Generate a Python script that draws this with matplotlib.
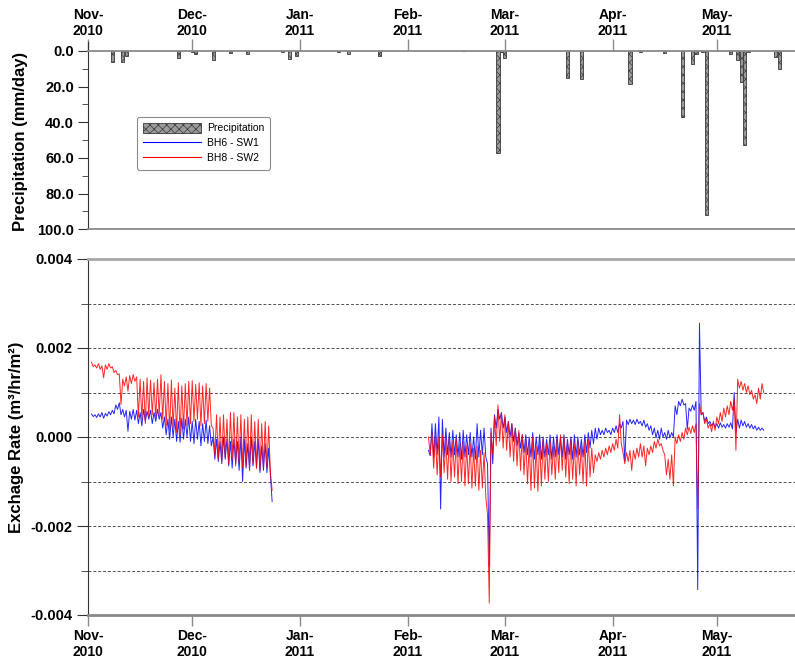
import numpy as np
import pandas as pd
import matplotlib
matplotlib.use("Agg")
import matplotlib.pyplot as plt
import matplotlib.dates as mdates
from matplotlib.patches import Patch
from matplotlib.lines import Line2D
from matplotlib.ticker import MultipleLocator, FormatStrFormatter

plt.rcParams['font.family'] = ['Liberation Sans', 'DejaVu Sans']
plt.rcParams['font.weight'] = 'bold'
plt.rcParams['axes.labelweight'] = 'bold'
plt.rcParams['hatch.color'] = '#6a6a6a'
plt.rcParams['hatch.linewidth'] = 0.5

# daily rainfall (mm/day)
rain_dates = ["2010-11-08", "2010-11-11", "2010-11-12", "2010-11-27", "2010-12-01",
              "2010-12-02", "2010-12-07", "2010-12-12", "2010-12-17", "2010-12-27",
              "2010-12-29", "2010-12-31", "2011-01-12", "2011-01-15", "2011-01-24",
              "2011-02-17", "2011-02-27", "2011-02-28", "2011-03-01", "2011-03-19",
              "2011-03-23", "2011-04-06", "2011-04-09", "2011-04-16", "2011-04-21",
              "2011-04-24", "2011-04-25", "2011-04-27", "2011-04-28", "2011-05-05",
              "2011-05-07", "2011-05-08", "2011-05-09", "2011-05-10", "2011-05-18",
              "2011-05-19"]
rain_mm = [6.0, 6.0, 2.8, 3.7, 0.8,
           1.7, 4.9, 0.9, 1.9, 0.7,
           4.8, 2.8, 0.8, 1.6, 2.8,
           0.3, 57.4, 0.6, 3.7, 15.2,
           15.8, 18.6, 0.6, 1.0, 37.2,
           7.3, 1.5, 0.6, 92.1, 1.9,
           4.9, 17.3, 52.7, 0.8, 3.2,
           9.9]

# exchange rate, readings every 12 h, in 1e-3 m3/hr/m2
start_a = "2010-11-02 00:00"
bh6_sw1_a = [0.52, 0.46, 0.50, 0.44, 0.52, 0.45, 0.55, 0.42, 0.53, 0.47,
             0.57, 0.50, 0.60, 0.52, 0.72, 0.62, 0.77, 0.50, 0.62, 0.45,
             0.60, 0.13, 0.58, 0.40, 0.62, 0.38, 0.60, 0.30, 0.55, 0.25,
             0.62, 0.35, 0.58, 0.40, 0.60, 0.30, 0.55, 0.35, 0.62, 0.40,
             0.55, 0.20, 0.45, 0.05, 0.40, -0.05, 0.45, 0.00, 0.40, -0.10,
             0.35, -0.12, 0.42, -0.05, 0.40, 0.00, 0.45, -0.10, 0.35, -0.15,
             0.40, -0.05, 0.35, -0.20, 0.30, -0.10, 0.38, -0.15, 0.25, -0.20,
             0.00, -0.50, -0.05, -0.55, -0.10, -0.60, 0.00, -0.50, -0.05, -0.65,
             -0.10, -0.70, -0.05, -0.60, -0.10, -0.75, 0.00, -1.00, -0.05, -0.70,
             -0.15, -0.75, 0.00, -0.65, -0.10, -0.70, -0.05, -0.80, -0.20, -0.75,
             -0.15, -0.80, -0.25, -0.85, -1.45]
bh8_sw2_a = [1.68, 1.58, 1.62, 1.55, 1.65, 1.52, 1.60, 1.33, 1.62, 1.52,
             1.65, 1.55, 1.58, 1.45, 1.50, 1.40, 1.42, 0.73, 1.30, 1.15,
             1.35, 1.03, 1.38, 1.20, 1.40, 1.25, 1.35, 0.45, 1.30, 0.40,
             1.25, 0.30, 1.33, 0.45, 1.28, 0.50, 1.22, 0.42, 1.30, 0.48,
             1.40, 0.40, 1.25, 0.25, 1.20, 0.15, 1.28, 0.20, 1.10, 0.10,
             1.22, 0.05, 1.15, 0.18, 1.20, 0.25, 1.25, 0.30, 1.27, 0.35,
             1.18, 0.40, 1.22, 0.25, 1.15, 0.30, 1.20, 0.35, 1.10, 0.25,
             0.20, -0.40, 0.50, -0.50, 0.45, -0.55, 0.50, -0.45, 0.40, -0.60,
             0.55, -0.50, 0.55, -0.65, 0.45, -0.60, 0.50, -0.70, 0.40, -0.65,
             0.45, -0.70, 0.50, -0.60, 0.35, -0.70, 0.40, -0.75, 0.30, -0.65,
             0.35, -0.70, 0.25, -0.80, -1.20]

start_b = "2011-02-07 00:00"
bh6_sw1_b = [-0.30, -0.42, 0.30, -0.45, 0.30, -0.40, 0.45, -1.62, 0.40, -0.45,
             0.20, -0.40, 0.10, -0.45, 0.15, -0.40, 0.05, -0.45, 0.10, -0.50,
             0.15, -0.45, 0.05, -0.40, 0.10, -0.45, 0.00, -0.50, 0.30, -0.45,
             0.15, -0.40, 0.20, -0.45, -0.60, -2.90, 0.20, -0.60, 0.50, 0.20,
             0.62, 0.40, 0.55, 0.20, 0.45, 0.10, 0.35, 0.00, 0.30, -0.10,
             0.20, -0.20, 0.10, -0.25, 0.05, -0.35, 0.05, -0.40, 0.00, -0.45,
             0.10, -0.50, 0.00, -0.40, 0.05, -0.50, 0.00, -0.45, -0.05, -0.40,
             0.05, -0.50, 0.00, -0.45, 0.05, -0.40, 0.00, -0.45, 0.05, -0.50,
             -0.05, -0.40, 0.00, -0.50, 0.05, -0.45, 0.00, -0.40, -0.05, -0.45,
             0.05, -0.35, 0.10, -0.25, 0.15, -0.15, 0.20, -0.05, 0.20, 0.05,
             0.15, 0.05, 0.20, 0.10, 0.15, 0.05, 0.20, 0.10, 0.25, 0.10,
             0.30, 0.20, 0.35, -0.55, 0.38, 0.28, 0.40, 0.30, 0.38, 0.28,
             0.40, 0.30, 0.35, 0.25, 0.38, 0.22, 0.30, 0.15, 0.25, 0.05,
             0.20, -0.02, 0.15, -0.05, 0.20, 0.00, 0.10, -0.05, 0.15, -0.02,
             0.10, 0.00, 0.70, 0.50, 0.80, 0.70, 0.85, 0.72, 0.75, 0.17,
             0.65, 0.58, 0.72, 0.60, 0.80, -3.43, 2.56, 0.50, 0.55, 0.35,
             0.45, 0.30, 0.35, 0.25, 0.32, 0.22, 0.30, 0.20, 0.32, 0.22,
             0.28, 0.20, 0.30, 0.22, 0.32, 0.18, 1.00, 0.10, 0.40, 0.20,
             0.38, 0.25, 0.35, 0.22, 0.30, 0.20, 0.28, 0.18, 0.25, 0.15,
             0.22, 0.15, 0.20, 0.15]
bh8_sw2_b = [0.00, -0.40, 0.10, -0.70, 0.05, -0.85, 0.00, -0.90, 0.05, -0.80,
             -0.05, -0.95, 0.00, -1.00, -0.10, -0.90, -0.05, -1.05, -0.15, -1.00,
             -0.10, -1.10, -0.20, -1.05, -0.15, -1.15, -0.25, -1.10, -0.20, -1.20,
             -0.30, -1.15, -0.35, -1.35, -1.75, -3.73, 0.10, -0.40, 0.45, -0.20,
             0.72, -0.10, 0.55, -0.25, 0.50, -0.30, 0.35, -0.45, 0.30, -0.55,
             0.20, -0.65, 0.15, -0.75, 0.05, -0.85, -0.05, -1.05, -0.15, -1.20,
             0.00, -1.15, -0.20, -1.22, -0.10, -1.10, -0.05, -0.95, -0.15, -1.00,
             -0.10, -0.85, -0.20, -0.95, -0.05, -0.80, 0.05, -0.75, 0.00, -0.90,
             -0.10, -1.05, -0.05, -0.95, -0.15, -1.10, -0.10, -0.85, -0.20, -1.05,
             -0.10, -1.10, -0.05, -0.90, -0.25, -0.80, -0.40, -0.55, -0.35, -0.50,
             -0.30, -0.45, -0.25, -0.40, -0.20, -0.35, -0.15, -0.30, -0.05, -0.25,
             0.50, -0.15, -0.35, -0.60, -0.35, -0.55, -0.30, -0.75, -0.30, -0.50,
             -0.25, -0.45, -0.15, -0.45, -0.20, -0.65, -0.25, -0.40, -0.20, -0.35,
             -0.10, -0.25, -0.05, -0.20, -0.15, -0.30, -0.40, -0.85, -0.50, -0.95,
             -0.40, -1.10, 0.00, -0.15, 0.05, -0.10, 0.10, -0.05, 0.20, 0.05,
             0.22, 0.08, 0.25, 0.10, 0.30, -1.63, 0.75, 0.50, 0.55, 0.30,
             0.40, 0.20, 0.30, 0.12, 0.35, 0.15, 0.45, 0.30, 0.55, 0.35,
             0.65, 0.45, 0.70, 0.50, 0.80, 0.60, 0.85, -0.30, 1.30, 1.10,
             1.25, 1.05, 1.20, 1.00, 1.15, 0.95, 1.05, 0.85, 0.95, 0.75,
             1.10, 0.85, 1.20, 1.00]


def readings(start, values):
    t = pd.date_range(start, periods=len(values), freq="12h")
    return t, np.array(values) * 1e-3


W, H = 795, 661
fig = plt.figure(figsize=(W / 100, H / 100), dpi=100)
left = 88 / W
ax1 = fig.add_axes([left, 1 - 229.3 / H, 1 - left, (229.3 - 42) / H])
ax2 = fig.add_axes([left, 1 - 615 / H, 1 - left, (615 - 259) / H])

xmin, xmax = pd.Timestamp("2010-11-01"), pd.Timestamp("2011-05-23 12:00")
months = mdates.MonthLocator()
month_fmt = mdates.DateFormatter("%b-\n%Y")

# precipitation, hanging down from zero
ax1.bar(pd.to_datetime(rain_dates), rain_mm, width=0.9, color="#9a9a9a",
        edgecolor="#3a3a3a", linewidth=0.6, hatch="xxxx")
ax1.set_xlim(xmin, xmax)
ax1.set_ylim(100, -5)
ax1.yaxis.set_major_locator(MultipleLocator(20))
ax1.yaxis.set_minor_locator(MultipleLocator(10))
ax1.yaxis.set_major_formatter(FormatStrFormatter("%.1f"))
ax1.xaxis.set_major_locator(months)
ax1.xaxis.set_major_formatter(month_fmt)
ax1.xaxis.tick_top()
ax1.spines["top"].set_position(("data", 0))
ax1.spines["top"].set_color("#8a8a8a")
ax1.spines["top"].set_linewidth(1.3)
ax1.spines["bottom"].set_color("#8a8a8a")
ax1.spines["bottom"].set_linewidth(1.3)
ax1.spines["left"].set_color("#333333")
ax1.spines["right"].set_visible(False)
ax1.tick_params(axis="x", direction="out", length=9, width=1, color="#8a8a8a",
                labelsize=10, pad=0)
ax1.tick_params(axis="y", which="major", length=7, color="#333333", labelsize=10.5, pad=3)
ax1.tick_params(axis="y", which="minor", length=4, color="#333333")
ax1.set_ylabel("Precipitation (mm/day)", fontsize=12)
ax1.yaxis.set_label_coords(-0.085, 0.47)

# exchange rate series
for start, vals, col in [(start_a, bh6_sw1_a, "#0000ff"), (start_b, bh6_sw1_b, "#0000ff"),
                         (start_a, bh8_sw2_a, "#ff0000"), (start_b, bh8_sw2_b, "#ff0000")]:
    t, v = readings(start, vals)
    ax2.plot(t, v, color=col, linewidth=0.7, alpha=0.85)

ax2.set_xlim(xmin, xmax)
ax2.set_ylim(-0.004, 0.004)
ax2.yaxis.set_major_locator(MultipleLocator(0.002))
ax2.yaxis.set_minor_locator(MultipleLocator(0.001))
ax2.yaxis.set_major_formatter(FormatStrFormatter("%.3f"))
ax2.yaxis.grid(True, which="both", linestyle=(0, (3, 2)), color="#505050", linewidth=0.7)
ax2.xaxis.set_major_locator(months)
ax2.xaxis.set_major_formatter(month_fmt)
ax2.spines["top"].set_color("#a8a8a8")
ax2.spines["top"].set_linewidth(2)
ax2.spines["bottom"].set_color("#8a8a8a")
ax2.spines["bottom"].set_linewidth(2)
ax2.spines["left"].set_color("#333333")
ax2.spines["right"].set_visible(False)
ax2.tick_params(axis="x", direction="out", length=8, width=1, color="#8a8a8a",
                labelsize=10, pad=2)
ax2.tick_params(axis="y", which="major", length=8, color="#333333", labelsize=10.5, pad=3)
ax2.tick_params(axis="y", which="minor", length=5, color="#333333")
ax2.set_ylabel("Exchage Rate (m³/hr/m²)", fontsize=12)
ax2.yaxis.set_label_coords(-0.09, 0.5)

handles = [Patch(facecolor="#9a9a9a", edgecolor="#3a3a3a", hatch="xxxx", linewidth=0.6),
           Line2D([], [], color="#0000ff", linewidth=0.8),
           Line2D([], [], color="#ff0000", linewidth=0.8)]
leg = fig.legend(handles, ["Precipitation", "BH6 - SW1", "BH8 - SW2"],
                 loc="upper left", bbox_to_anchor=(137 / W, 1 - 117 / H),
                 prop={"size": 7.5, "weight": "normal"}, frameon=True, fancybox=True,
                 handlelength=5.5, handleheight=1.0, labelspacing=0.45,
                 borderpad=0.6, handletextpad=0.6, borderaxespad=0)
leg.get_frame().set_edgecolor("#707070")
leg.get_frame().set_linewidth(0.8)

fig.savefig("out.png", dpi=100)
